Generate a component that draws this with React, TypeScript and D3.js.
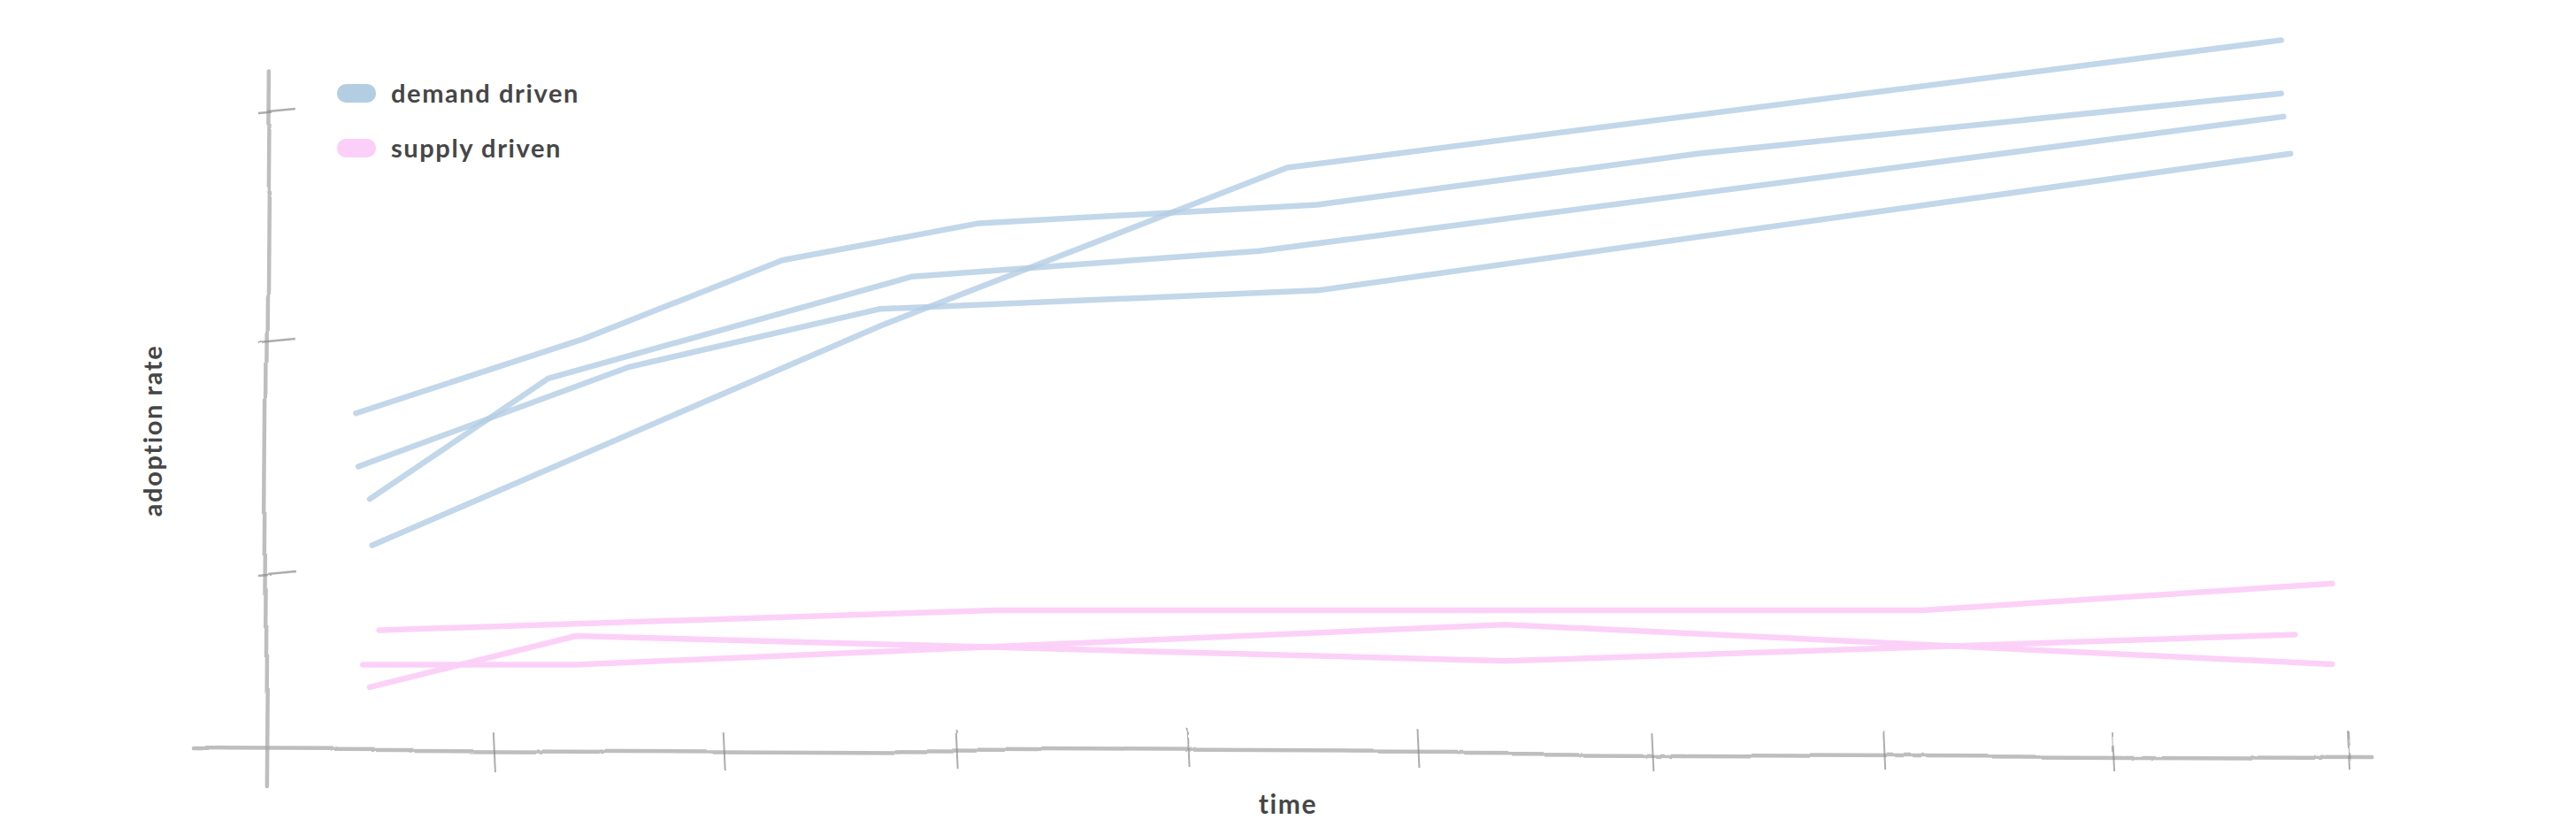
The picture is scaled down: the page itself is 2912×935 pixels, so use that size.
import React, { useEffect } from 'react'
import * as d3 from 'd3'

// two families of adoption curves ([time, rate])
const demandA: [number, number][] = [[0.41, 1.69], [1.39, 2.01], [2.25, 2.35], [3.1, 2.51], [4.56, 2.59], [6.2, 2.81], [8.72, 3.07]]
const demandB: [number, number][] = [[0.42, 1.46], [1.59, 1.89], [2.67, 2.14], [4.56, 2.22], [8.76, 2.81]]
const demandC: [number, number][] = [[0.47, 1.32], [1.24, 1.84], [2.81, 2.28], [4.31, 2.39], [8.73, 2.97]]
const demandD: [number, number][] = [[0.48, 1.12], [2.68, 2.07], [4.43, 2.75], [8.72, 3.3]]

const supplyA: [number, number][] = [[0.51, 0.754], [3.17, 0.84], [7.17, 0.84], [8.94, 0.955]]
const supplyB: [number, number][] = [[0.44, 0.605], [1.36, 0.605], [5.37, 0.778], [8.94, 0.607]]
const supplyC: [number, number][] = [[0.47, 0.508], [1.36, 0.729], [5.37, 0.621], [8.78, 0.735]]

const legendLabels = ['demand driven', 'supply driven']
const xTicks = [1, 2, 3, 4, 5, 6, 7, 8, 9]
const yTicks = [1, 2, 3]

const W = 2912
const H = 935
const BLUE = '#b3cde3'
const PINK = '#fccff8'
const FONT = 'Lato, "Noto Sans", sans-serif'
const TEXT = '#464646'

export default function App() {
  useEffect(() => {
    document.body.style.margin = '0'
  }, [])

  const x = d3.scaleLinear().domain([0, 9]).range([295, 2652])
  const y = d3.scaleLinear().domain([0, 3]).range([910, 124])

  const line = d3.line<[number, number]>()
    .x(d => x(d[0]))
    .y(d => y(d[1]))

  const demand = [demandA, demandB, demandC, demandD]
  const supply = [supplyA, supplyB, supplyC]

  const axisY = y(0.24)
  const axisX = x(0.03)

  return (
    <svg width={W} height={H} style={{ display: 'block', background: '#fff' }}>
      <defs>
        <filter id="wobble" x="-5%" y="-5%" width="110%" height="110%">
          <feTurbulence type="fractalNoise" baseFrequency="0.003" numOctaves={1} seed={7} />
          <feDisplacementMap in="SourceGraphic" scale={16} xChannelSelector="R" yChannelSelector="G" />
        </filter>
      </defs>

      {/* axes */}
      <g filter="url(#wobble)">
        <line x1={x(-0.29)} x2={x(9.1)} y1={axisY - 2} y2={axisY + 8}
          stroke="#a8a8a8" strokeOpacity={0.75} strokeWidth={4.5} strokeLinecap="round" />
        <line x1={axisX + 2} x2={axisX - 4} y1={y(3.17)} y2={y(0.08)}
          stroke="#a8a8a8" strokeOpacity={0.75} strokeWidth={4.5} strokeLinecap="round" />
        {xTicks.map(t => (
          <line key={'xt' + t} x1={x(t)} x2={x(t) + 2} y1={axisY - 22} y2={axisY + 22}
            stroke="#8a8a8a" strokeOpacity={0.7} strokeWidth={2} />
        ))}
        {yTicks.map(t => (
          <line key={'yt' + t} x1={axisX - 10} x2={axisX + 32} y1={y(t) + 2} y2={y(t) - 2}
            stroke="#8a8a8a" strokeOpacity={0.7} strokeWidth={2.5} />
        ))}
      </g>

      {/* series */}
      <g fill="none" strokeLinecap="round" strokeLinejoin="round">
        {demand.map((s, i) => (
          <path key={'d' + i} d={line(s) ?? ''} stroke={BLUE} strokeOpacity={0.8} strokeWidth={6.5} />
        ))}
        {supply.map((s, i) => (
          <path key={'s' + i} d={line(s) ?? ''} stroke={PINK} strokeOpacity={0.95} strokeWidth={6.5} />
        ))}
      </g>

      {/* legend */}
      <g fontFamily={FONT} fontSize={29} fontWeight={700} fill={TEXT} letterSpacing={1.6}>
        {legendLabels.map((lab, i) => (
          <g key={lab} transform={`translate(381, ${95 + i * 62})`}>
            <rect width={44} height={21} rx={10} fill={i === 0 ? BLUE : PINK} />
            <text x={61} y={11} dy="0.35em">{lab}</text>
          </g>
        ))}
      </g>

      {/* axis titles */}
      <text x={1456} y={920} textAnchor="middle" fontFamily={FONT} fontSize={30} fontWeight={700}
        fill={TEXT} letterSpacing={1.6}>time</text>
      <text transform={`translate(183, 487) rotate(-90)`} textAnchor="middle"
        fontFamily={FONT} fontSize={29} fontWeight={700} fill={TEXT} letterSpacing={1.6}>adoption rate</text>
    </svg>
  )
}
